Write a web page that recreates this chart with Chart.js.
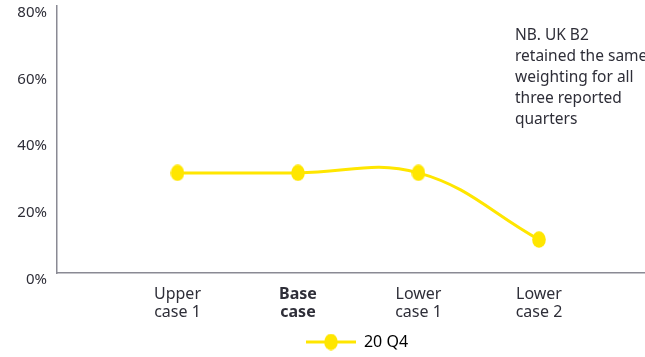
<!DOCTYPE html>
<html>
<head>
<meta charset="utf-8">
<script src="https://cdn.jsdelivr.net/npm/chart.js@4/dist/chart.umd.min.js"></script>
<style>
  html, body { margin: 0; padding: 0; background: #fff; }
  #wrap { width: 645px; height: 357px; }
</style>
</head>
<body>
<div id="wrap"><canvas id="c" width="645" height="357"></canvas></div>
<script>
// Scenario categories (drawn as two-line labels) and weightings in %
const categories = [['Upper', 'case 1'], ['Base', 'case'], ['Lower', 'case 1'], ['Lower', 'case 2']];
const weights = [30, 30, 30, 10];
const seriesName = '20 Q4';
const yTicks = [0, 20, 40, 60, 80];
const noteLines = ['NB. UK B2', 'retained the same', 'weighting for all', 'three reported', 'quarters'];

const YELLOW = '#FFE600';
const TEXT = '#2e2e38';
const AXIS = '#8a8a94';
const FONT = "'Noto Sans', sans-serif";

// Oval marker used for the data points
function marker() {
  const cv = document.createElement('canvas');
  cv.width = 14; cv.height = 17;
  const g = cv.getContext('2d');
  g.fillStyle = YELLOW;
  g.beginPath(); g.ellipse(7, 8.5, 6.8, 8.3, 0, 0, Math.PI * 2); g.fill();
  return cv;
}

// Legend swatch: a short line with an oval in the middle
function legendSwatch() {
  const cv = document.createElement('canvas');
  cv.width = 50; cv.height = 17;
  const g = cv.getContext('2d');
  g.strokeStyle = YELLOW; g.lineWidth = 3;
  g.beginPath(); g.moveTo(0, 8.5); g.lineTo(50, 8.5); g.stroke();
  g.drawImage(marker(), 18, 0);
  return cv;
}

// Side note in the upper right
const notePlugin = {
  id: 'note',
  afterDraw(chart) {
    const ctx = chart.ctx;
    ctx.save();
    ctx.fillStyle = TEXT;
    ctx.font = '15.5px ' + FONT;
    ctx.textAlign = 'left';
    ctx.textBaseline = 'middle';
    noteLines.forEach((t, i) => ctx.fillText(t, 515, 36 + i * 20.8));
    ctx.restore();
  }
};

// Nudge the legend row slightly lower and to the right
const legendNudge = {
  id: 'legendNudge',
  afterLayout(chart) {
    const lg = chart.legend;
    if (!lg) return;
    lg.top += 3; lg.bottom += 3;
    lg.left += 6; lg.right += 6;
  }
};

const swatch = legendSwatch();
const dot = marker();

new Chart(document.getElementById('c'), {
  type: 'line',
  data: {
    datasets: [{
      label: seriesName,
      data: weights.map((v, i) => ({ x: i + 1, y: v })),
      borderColor: YELLOW,
      backgroundColor: YELLOW,
      borderWidth: 3,
      tension: 0.4,
      pointStyle: dot,
      pointRadius: 8,
      pointHoverRadius: 8
    }]
  },
  options: {
    responsive: false,
    animation: false,
    layout: { autoPadding: false, padding: { left: 0, right: 0, top: 6, bottom: 0 } },
    plugins: {
      tooltip: { enabled: false },
      legend: {
        position: 'bottom',
        fullSize: false,
        labels: {
          usePointStyle: true,
          pointStyleWidth: 50,
          boxHeight: 17,
          padding: 3,
          color: TEXT,
          font: { family: FONT, size: 16 },
          generateLabels: () => [{
            text: seriesName,
            pointStyle: swatch,
            fillStyle: YELLOW,
            strokeStyle: YELLOW,
            lineWidth: 0,
            datasetIndex: 0
          }]
        }
      }
    },
    scales: {
      x: {
        type: 'linear',
        min: 0,
        max: 4.88,
        afterFit: (scale) => { scale.paddingLeft = 0; scale.paddingRight = 0; scale.height = 55; },
        grid: { display: false, drawTicks: true, tickLength: 12 },
        border: { display: true, color: AXIS, width: 1.5 },
        ticks: {
          stepSize: 1,
          includeBounds: false,
          autoSkip: false,
          maxRotation: 0,
          padding: 0,
          color: TEXT,
          font: (ctx) => ({ family: FONT, size: 16, lineHeight: 1.125, weight: ctx.tick && ctx.tick.value === 2 ? 'bold' : 'normal' }),
          callback: (v) => (Number.isInteger(v) && v >= 1 && v <= categories.length) ? categories[v - 1] : ''
        }
      },
      y: {
        min: 0,
        max: 80,
        afterBuildTicks: (scale) => { scale.ticks = yTicks.map(v => ({ value: v })); },
        afterFit: (scale) => { scale.width = 57; scale.paddingTop = 0; scale.paddingBottom = 0; },
        grid: { display: false, drawTicks: true, tickLength: 10 },
        border: { display: true, color: AXIS, width: 1.5 },
        ticks: {
          padding: 0,
          labelOffset: 6.5,
          color: TEXT,
          font: { family: FONT, size: 15, lineHeight: 0.8 },
          callback: (v) => v + '%'
        }
      }
    }
  },
  plugins: [notePlugin, legendNudge]
});
</script>
</body>
</html>
